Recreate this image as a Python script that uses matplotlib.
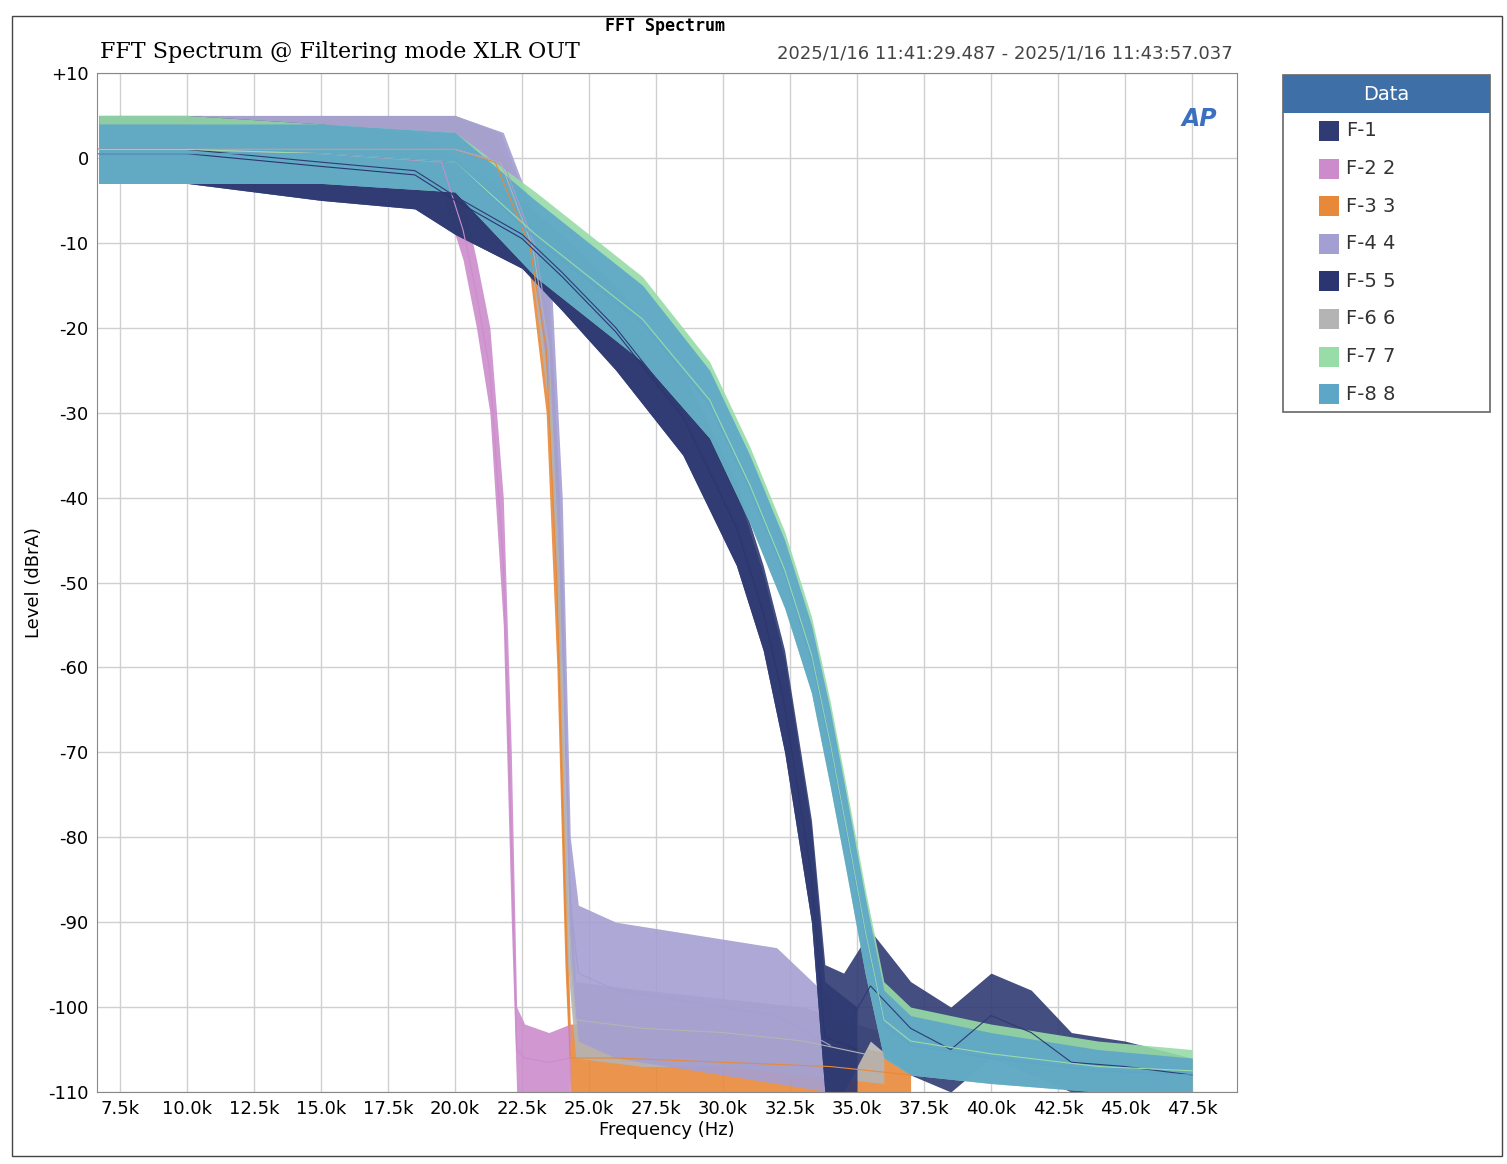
import matplotlib.pyplot as plt
import numpy as np
from matplotlib.patches import Rectangle

# envelope: frequency (kHz), upper level, lower level (dBrA)
names = ["F-1", "F-2 2", "F-3 3", "F-4 4", "F-5 5", "F-6 6", "F-7 7", "F-8 8"]
colors = ["#2f3b72", "#cc8ccc", "#e8893a", "#a49fd2", "#2b3570", "#b4b4b4", "#98dca8", "#5ea6c8"]

freq_1 = [6.7, 10, 15, 18.5, 20, 22.5, 24, 26, 28.5, 30.5, 31.5, 32.3, 33.3, 33.8, 34.5, 35.5, 37, 38.5, 40, 41.5, 43, 45, 47.5]
hi_1 = [5, 5, 4, 3, 0, -5, -9, -15, -25, -38, -48, -58, -78, -95, -96, -91, -97, -100, -96, -98, -103, -104, -106]
lo_1 = [-3, -3, -5, -6, -9, -13, -18, -25, -35, -48, -58, -70, -90, -110, -110, -104, -108, -110, -106, -108, -110, -110, -110]

freq_2 = [6.7, 10, 15, 19.5, 20.3, 20.8, 21.3, 21.8, 22.1, 22.3, 22.6, 23.5, 24.3]
hi_2 = [5, 5, 4, 3, -5, -12, -20, -40, -70, -100, -102, -103, -102]
lo_2 = [-3, -3, -3, -4, -12, -20, -30, -55, -90, -110, -110, -110, -110]

freq_3 = [6.7, 10, 15, 20, 21.5, 22.8, 23.4, 23.8, 24.1, 24.3, 26, 30, 34, 37]
hi_3 = [5, 5, 5, 5, 3, -7, -15, -40, -80, -102, -102, -103, -104, -106]
lo_3 = [-3, -3, -3, -3, -4, -14, -30, -60, -95, -110, -110, -110, -110, -110]

freq_4 = [6.7, 10, 15, 20, 21.8, 23.0, 23.6, 24.0, 24.3, 24.6, 26, 28, 30, 32, 34]
hi_4 = [5, 5, 5, 5, 3, -7, -15, -40, -80, -88, -90, -91, -92, -93, -99]
lo_4 = [-3, -3, -3, -3, -4, -14, -30, -60, -95, -104, -106, -107, -108, -109, -110]

freq_5 = [6.7, 10, 15, 18.5, 20, 22.5, 24, 26, 28.5, 30.5, 31.5, 32.3, 33.3, 33.8, 35]
hi_5 = [4, 4, 3, 2, -1, -6, -10, -16, -26, -39, -49, -59, -79, -97, -100]
lo_5 = [-3, -3, -5, -6, -9, -13, -18, -25, -35, -48, -58, -70, -90, -110, -110]

freq_6 = [6.7, 10, 15, 20, 21.7, 22.9, 23.5, 23.9, 24.2, 24.5, 27, 30, 33, 36]
hi_6 = [5, 5, 5, 5, 3, -7, -15, -40, -80, -97, -98, -99, -100, -103]
lo_6 = [-3, -3, -3, -3, -4, -14, -30, -60, -95, -106, -107, -107, -108, -109]

freq_7 = [6.7, 10, 15, 20, 23, 27, 29.5, 31, 32.3, 33.3, 34, 34.6, 35.3, 36, 37, 40, 44, 47.5]
hi_7 = [5, 5, 4, 3, -4, -14, -24, -34, -44, -54, -64, -74, -86, -97, -100, -102, -104, -105]
lo_7 = [-3, -3, -3, -4, -14, -24, -33, -43, -53, -63, -74, -84, -96, -106, -108, -109, -110, -110]

freq_8 = [6.7, 10, 15, 20, 23, 27, 29.5, 31, 32.3, 33.3, 34, 34.6, 35.3, 36, 37, 40, 44, 47.5]
hi_8 = [4, 4, 4, 3, -5, -15, -25, -35, -45, -55, -65, -75, -87, -98, -101, -103, -105, -106]
lo_8 = [-3, -3, -3, -4, -14, -24, -33, -43, -53, -63, -74, -84, -96, -106, -108, -109, -110, -110]

series = [(freq_1, hi_1, lo_1), (freq_2, hi_2, lo_2), (freq_3, hi_3, lo_3), (freq_4, hi_4, lo_4),
          (freq_5, hi_5, lo_5), (freq_6, hi_6, lo_6), (freq_7, hi_7, lo_7), (freq_8, hi_8, lo_8)]
draw_order = [2, 5, 3, 1, 4, 0, 6, 7]

x_ticks = [7.5 + 2.5 * i for i in range(17)]
y_ticks = list(range(-110, 11, 10))

fig = plt.figure(figsize=(15.07, 11.64), dpi=100)
ax = fig.add_axes([97 / 1507, 1 - 1092 / 1164, 1140 / 1507, 1019 / 1164])

for i in draw_order:
    f, hi, lo = series[i]
    f = np.array(f) * 1000
    ax.fill_between(f, lo, hi, color=colors[i], alpha=0.9, lw=0)
    ax.plot(f, (np.array(hi) + np.array(lo)) / 2, color=colors[i], lw=0.8)

ax.set_xlim(6640, 49180)
ax.set_ylim(-110, 10)
ax.set_xticks([v * 1000 for v in x_ticks])
ax.set_xticklabels(["%.1fk" % v for v in x_ticks], fontsize=13)
ax.set_yticks(y_ticks)
ax.set_yticklabels(["+10" if v == 10 else str(v) for v in y_ticks], fontsize=13)
ax.tick_params(length=0, pad=6)
ax.grid(color="#d0d0d0", lw=1)
ax.set_axisbelow(True)
for s in ax.spines.values():
    s.set_color("#888888")
ax.set_xlabel("Frequency (Hz)", fontsize=13, labelpad=2)
ax.set_ylabel("Level (dBrA)", fontsize=13, labelpad=4)

fig.text(665 / 1507, 1 - 26 / 1164, "FFT Spectrum", family="monospace", fontsize=12, weight="bold", ha="center", va="center")
fig.text(100 / 1507, 1 - 52 / 1164, "FFT Spectrum @ Filtering mode XLR OUT", family="serif", fontsize=16, va="center")
fig.text(1233 / 1507, 1 - 54 / 1164, "2025/1/16 11:41:29.487 - 2025/1/16 11:43:57.037", fontsize=13, color="#444444", ha="right", va="center")
ax.text(0.967, 0.955, "AP", transform=ax.transAxes, fontsize=17, style="italic", weight="bold", color="#3b6fc0", ha="center", va="center")

# legend panel
lx, ly, lw_, lh = 1283 / 1507, 1 - 412 / 1164, 207 / 1507, 337 / 1164
fig.add_artist(Rectangle((lx, ly), lw_, lh, transform=fig.transFigure, fc="white", ec="#666666", lw=1.2))
fig.add_artist(Rectangle((lx, ly + lh - 38 / 1164), lw_, 38 / 1164, transform=fig.transFigure, fc="#3f6fa7", ec="none"))
fig.text(lx + lw_ / 2, 1 - 95 / 1164, "Data", color="white", fontsize=14, ha="center", va="center")
for i, name in enumerate(names):
    yy = 1 - (131 + 37.6 * i) / 1164
    fig.add_artist(Rectangle((1319 / 1507, yy - 10 / 1164), 20 / 1507, 20 / 1164, transform=fig.transFigure, fc=colors[i], ec="none"))
    fig.text(1346 / 1507, yy, name, fontsize=14, color="#333333", va="center")

fig.add_artist(Rectangle((12 / 1507, 8 / 1164), 1490 / 1507, 1140 / 1164, transform=fig.transFigure, fc="none", ec="#444444", lw=1))

fig.savefig("out.png", dpi=100)
